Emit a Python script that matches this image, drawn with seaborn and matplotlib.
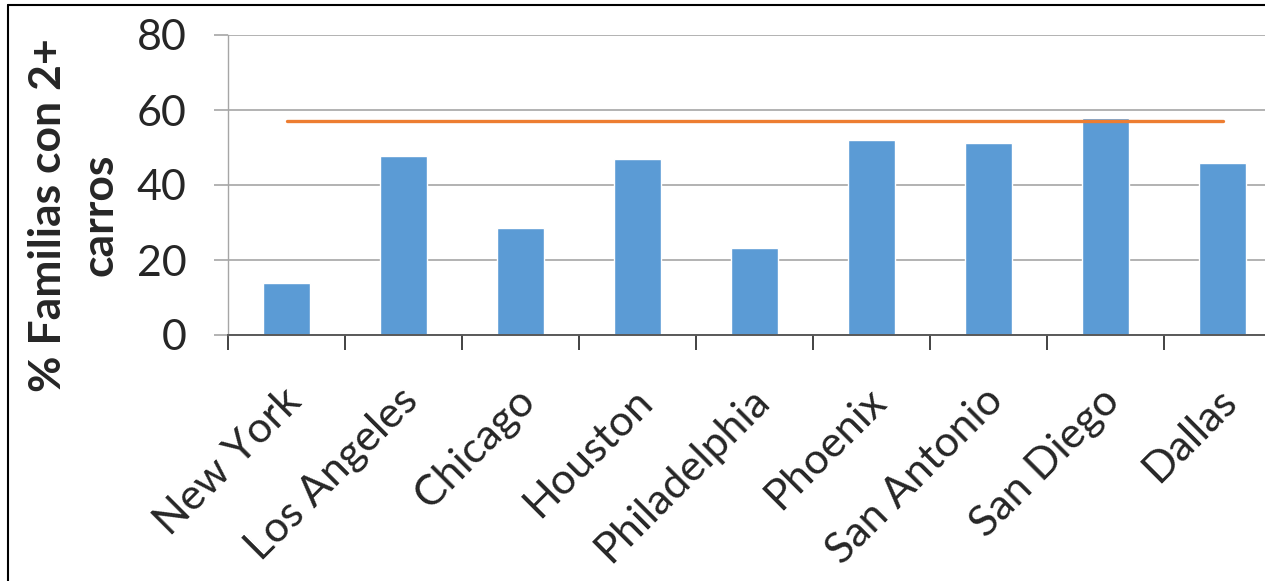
import matplotlib
matplotlib.use('Agg')
import matplotlib.pyplot as plt
import matplotlib.transforms as mtransforms
from matplotlib.lines import Line2D
import seaborn as sns
import pandas as pd

# datos
ciudades = ['New York', 'Los Angeles', 'Chicago', 'Houston', 'Philadelphia',
            'Phoenix', 'San Antonio', 'San Diego', 'Dallas']
familias_2carros = [13.8, 47.7, 28.5, 47.0, 23.3, 52.1, 51.3, 57.9, 45.8]
referencia = [57, 57, 57, 57, 57, 57, 57, 57, 57]
yticks = [0, 20, 40, 60, 80]

df = pd.DataFrame({'ciudad': ciudades, 'pct': familias_2carros, 'ref': referencia})

sns.set_style('white')
plt.rcParams['font.family'] = ['Lato', 'DejaVu Sans']

fig = plt.figure(figsize=(12.65, 5.81), dpi=100)
W, H = 1265, 581
ax = fig.add_axes([228 / W, (H - 335) / H, (1281 - 228) / W, 300 / H])

sns.barplot(data=df, x='ciudad', y='pct', color='#5B9BD5', saturation=1,
            width=0.4, ax=ax, zorder=2)
sns.lineplot(data=df, x='ciudad', y='ref', color='#ED7D31', linewidth=2.4,
             sort=False, ax=ax, zorder=3)

ax.set_ylim(0, 80)
ax.set_xlim(-0.5, len(ciudades) - 0.5)
ax.set_yticks(yticks)
ax.set_xlabel('')
ax.set_ylabel('')
ax.grid(axis='y', color='#A6A6A6', linewidth=1.2, zorder=0)
ax.set_axisbelow(True)

for s in ['top', 'right']:
    ax.spines[s].set_visible(False)
ax.spines['left'].set_color('#A6A6A6')
ax.spines['left'].set_linewidth(1.0)
ax.spines['bottom'].set_color('#595959')
ax.spines['bottom'].set_linewidth(1.4)

# ticks del eje x entre categorias
ax.set_xticks([i - 0.5 for i in range(len(ciudades))], minor=True)
ax.tick_params(axis='x', which='minor', length=11, width=1.2, color='#222222',
               direction='out', bottom=True)
ax.tick_params(axis='x', which='major', length=0, pad=43, labelsize=31)
ax.tick_params(axis='y', length=10, width=1.2, color='#A6A6A6', pad=20,
               labelsize=31, left=True)

offset = mtransforms.ScaledTranslation(8 / 100, 0, fig.dpi_scale_trans)
for lab in ax.get_xticklabels():
    lab.set_rotation(45)
    lab.set_ha('right')
    lab.set_va('center')
    lab.set_rotation_mode('anchor')
    lab.set_transform(lab.get_transform() + offset)

fig.text(74 / W, 1 - 215 / H, '% Familias con 2+\ncarros', rotation=90,
         ha='center', va='center', multialignment='center',
         fontsize=32, fontweight='bold', linespacing=1.35)

# marco exterior (recortado a la derecha y abajo)
fig.add_artist(Line2D([8 / W, 8 / W], [0, 1 - 5 / H], color='black',
                      linewidth=1.5, transform=fig.transFigure))
fig.add_artist(Line2D([8 / W, 1], [1 - 5 / H, 1 - 5 / H], color='black',
                      linewidth=1.5, transform=fig.transFigure))

fig.savefig('out.png', dpi=100)
